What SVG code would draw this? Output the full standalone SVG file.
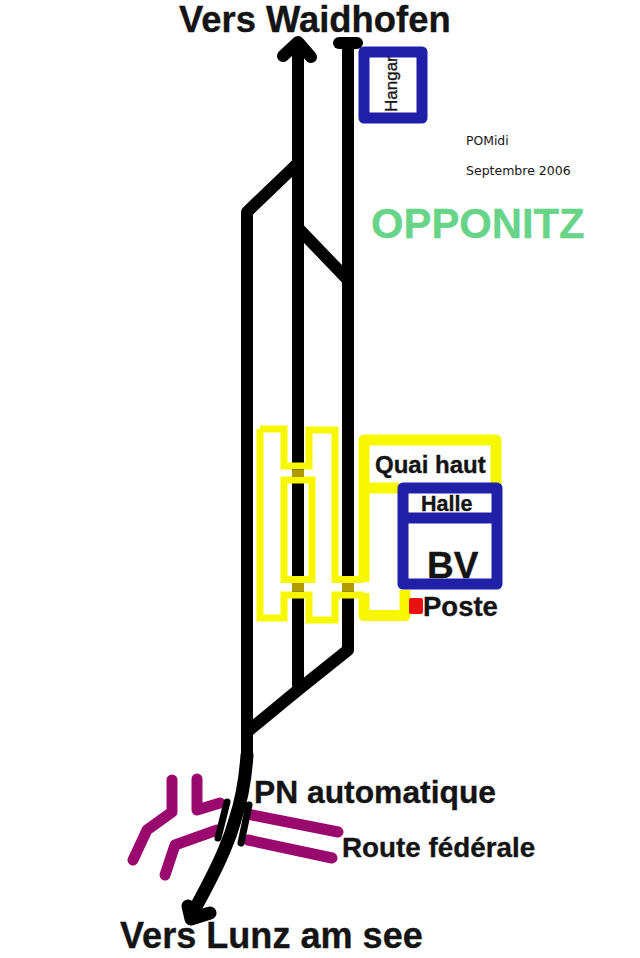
<svg xmlns="http://www.w3.org/2000/svg" width="640" height="958" viewBox="0 0 640 958">
<style>
text{font-family:"Liberation Sans",Arial,sans-serif;font-weight:bold;fill:#141414;stroke:#141414;stroke-width:.35}
.t{fill:none;stroke:#000;stroke-width:12;stroke-linejoin:round;stroke-linecap:round}
.c{stroke-width:13}
.y{fill:none;stroke:#f7f700;stroke-width:7;stroke-linejoin:miter}
.yb{fill:none;stroke:#f7f700;stroke-width:11;stroke-linejoin:round;stroke-linecap:butt}
.b{fill:none;stroke:#1f1fa8;stroke-width:11;stroke-linejoin:round}
.r{fill:none;stroke:#9a0a6e;stroke-width:11;stroke-linejoin:round;stroke-linecap:round}
.o{fill:#b09a00}
.x{fill:none;stroke:#000;stroke-width:7;stroke-linecap:round}
.n{font-family:"DejaVu Sans",sans-serif;font-weight:normal;stroke:none}
</style>
<rect width="640" height="958" fill="#fff"/>
<g id="connectors">
<path class="t" d="M298 44V685M283 56L298 42L311 57"/>
<path class="t" d="M348 44V650L298 690L247 732V755"/>
<path class="t c" d="M247 755C245 785 240 805 235 820C230 838 226 846 223 853C217 867 207 887 191 916"/>
<path class="t" d="M339 43H357"/>
<path class="t" d="M298 163L247 212V735"/>
<path class="t" d="M298 228L348 280"/>
<path class="t c" d="M188 906L191 919L210 913"/>
</g>
<g id="quais">
<path class="y" d="M260 429H284V466H309V430H335V579.5H364M260 429V618H284V595H309V620H335V595H364"/>
<rect class="y" x="284" y="480" width="28" height="99.5"/>
<rect class="o" x="292" y="470" width="12" height="7"/>
<rect class="o" x="292" y="583" width="12" height="8.5"/>
<rect class="o" x="342" y="583" width="12" height="8.5"/>
<path class="yb" d="M364 593V615.5H405V590M399 488H364V440H496V484M364 488V582"/>
</g>
<g id="hangar">
<rect class="b" x="364" y="52" width="58" height="66"/>
<text transform="translate(397 112) rotate(-90)" font-size="17" style="font-weight:normal">Hangar</text>
</g>
<g id="bv">
<rect class="b" x="403" y="488" width="94" height="96"/>
<path class="b" d="M403 518H497"/>
<text x="421" y="511" font-size="21.5">Halle</text>
<text x="427" y="578" font-size="37">BV</text>
</g>
<g id="quai-haut"><text x="375" y="473" font-size="24">Quai haut</text></g>
<g id="poste">
<rect x="409" y="598" width="14" height="16" rx="2" fill="#e81010"/>
<text x="423" y="616" font-size="27.5">Poste</text>
</g>
<g id="route">
<path class="r" d="M172 780V812L147 830L133 860"/>
<path class="r" d="M197 779V810L220 803"/>
<path class="r" d="M165 875L175 845L217 830"/>
<path class="r" d="M252 815L338 832"/>
<path class="r" d="M248 840L332 858"/>
<path class="x" d="M227 802L218 838M249 805L241 843"/>
</g>
<g id="labels">
<text x="179" y="32" font-size="36.4">Vers Waidhofen</text>
<text x="120" y="948" font-size="36.1">Vers Lunz am see</text>
<text x="254" y="803" font-size="31.8">PN automatique</text>
<text x="342" y="857" font-size="27.8">Route fédérale</text>
<text x="371" y="238" font-size="41.8" style="fill:#68d488;stroke:#68d488">OPPONITZ</text>
<text class="n" x="466" y="145" font-size="12.4">POMidi</text>
<text class="n" x="466" y="175" font-size="12.5">Septembre 2006</text>
</g>
</svg>
